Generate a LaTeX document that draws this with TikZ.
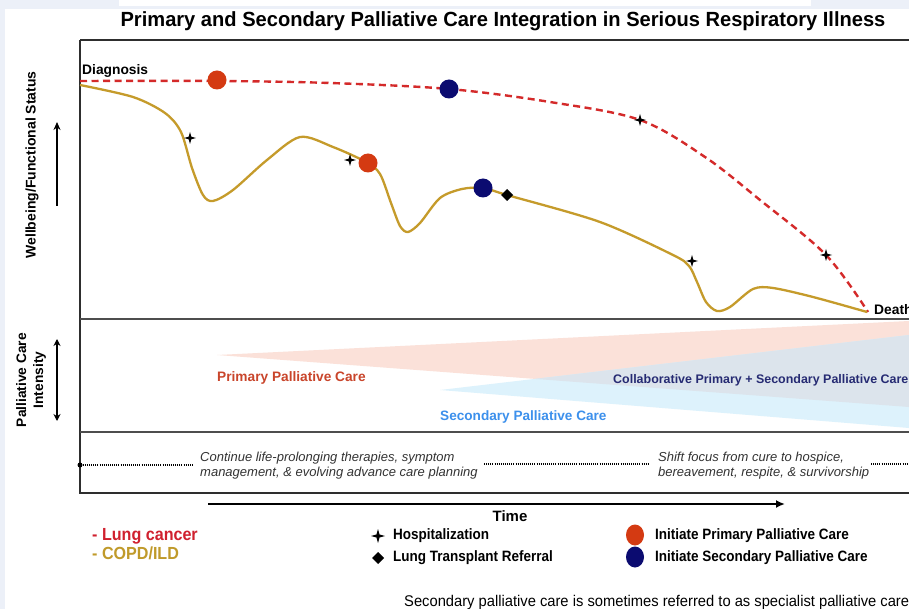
\documentclass[tikz,border=0pt]{standalone}
\usepackage{fontspec}
\setmainfont{Liberation Sans}
\usepackage{graphicx}
\usetikzlibrary{arrows.meta,shapes.geometric}

\definecolor{bgblue}{HTML}{ECF0F8}
\definecolor{framec}{HTML}{2E2E2E}
\definecolor{lungred}{HTML}{D42A2A}
\definecolor{copd}{HTML}{C59B2B}
\definecolor{prired}{HTML}{D43A12}
\definecolor{secnavy}{HTML}{0B0B70}
\definecolor{pinkfill}{HTML}{FBE1D9}
\definecolor{bluefill}{HTML}{DDF2FC}
\definecolor{overlapc}{HTML}{DCE4EC}
\definecolor{pritext}{HTML}{C9452B}
\definecolor{collabtext}{HTML}{262B73}
\definecolor{sectext}{HTML}{3C90EC}
\definecolor{lungtext}{HTML}{D0202E}
\definecolor{copdtext}{HTML}{C09A2A}
\definecolor{italtext}{HTML}{333333}

\newcommand{\fs}[1]{\fontsize{#1}{#1}\selectfont}
\newcommand{\cond}[2]{\scalebox{#1}[1]{#2}}

\tikzset{
  framel/.style={draw=framec, line width=2.3pt},
  sepl/.style={draw=framec!85, line width=2.6pt},
  lungline/.style={draw=lungred, line width=2.4pt, dash pattern=on 7pt off 4.5pt},
  copdline/.style={draw=copd, line width=2.3pt},
  arrowl/.style={draw=black, line width=2.8pt},
  pcirc/.style={circle, fill=prired, minimum size=19pt, inner sep=0pt},
  scirc/.style={circle, fill=secnavy, minimum size=19pt, inner sep=0pt},
  lpcirc/.style={ellipse, fill=prired, minimum width=18pt, minimum height=21pt, inner sep=0pt},
  lscirc/.style={ellipse, fill=secnavy, minimum width=18pt, minimum height=21pt, inner sep=0pt},
  chartlbl/.style={font=\fs{13.8}\bfseries, inner sep=0pt},
  itallbl/.style={font=\fontsize{13}{15}\selectfont\itshape, text=italtext, inner sep=0pt, align=left},
  legtxt/.style={font=\fs{15}\bfseries, inner sep=0pt, anchor=west},
  dotl/.style={draw=black, line width=1.2pt, dash pattern=on 0.9pt off 1.2pt},
  hosp/.pic={\fill[black] (0,-#1) -- (0.22*#1,-0.22*#1) -- (#1,0) -- (0.22*#1,0.22*#1) -- (0,#1) -- (-0.22*#1,0.22*#1) -- (-#1,0) -- (-0.22*#1,-0.22*#1) -- cycle;},
  diam/.pic={\fill[black] (0,-#1) -- (#1,0) -- (0,#1) -- (-#1,0) -- cycle;}
}

\begin{document}
\begin{tikzpicture}[x=1pt,y=-1pt]
\useasboundingbox (0,0) rectangle (909,609);
% background
\fill[bgblue] (0,0) rectangle (909,609);
\fill[white] (5,9) rectangle (909,609);
\fill[white] (119,0) rectangle (811,6);

% title
\node[inner sep=0pt, anchor=base] (title) at (503,27)
  {\fs{20.5}\bfseries\cond{0.98}{Primary and Secondary Palliative Care Integration in Serious Respiratory Illness}};

% palliative care band
\fill[pinkfill] (217,355) -- (909,321) -- (909,407) -- cycle;
\fill[bluefill] (440,390) -- (909,335) -- (909,428) -- cycle;
\begin{scope}
  \clip (217,355) -- (909,321) -- (909,407) -- cycle;
  \fill[overlapc] (440,390) -- (909,335) -- (909,428) -- cycle;
\end{scope}

% frame
\draw[framel] (80,40) -- (909,40);
\draw[framel] (80,40) -- (80,493) -- (909,493);
\draw[sepl] (80,319) -- (909,319);
\draw[sepl] (80,432) -- (909,432);

% axis labels
\node[chartlbl, rotate=90, font=\fs{14}\bfseries] (ylab) at (32,165) {Wellbeing/Functional Status};
\coordinate (upA) at (57,206);
\coordinate (upB) at (57,122);
\draw[arrowl, -{Stealth[length=8pt,width=7pt]}] (upA) -- (upB);
\node[rotate=90, inner sep=0pt, align=center, font=\fontsize{13.75}{17}\selectfont\bfseries] (plab) at (31,380) {Palliative Care\\Intensity};
\coordinate (dA) at (57,339);
\coordinate (dB) at (57,421);
\draw[arrowl, {Stealth[length=7pt,width=7pt]}-{Stealth[length=7pt,width=7pt]}] (dA) -- (dB);

% curves
\draw[lungline] plot[smooth, tension=0.55] coordinates {(80,81) (217,81) (330,83) (449,89) (550,102) (640,120) (705,157) (760,200) (826,255) (868,312)};
\draw[copdline] plot[smooth, tension=0.5] coordinates {(80,85) (133,97) (165,113) (181,132) (192,168) (203,195) (213,201) (233,190) (267,160) (300,137) (333,147) (366,162) (380,174) (391,203) (400,226) (408,232) (420,223) (440,198) (462,189) (483,188) (507,195) (600,222) (673,255) (689,266) (697,282) (706,302) (717,311) (730,307) (753,289) (773,288) (813,297) (867,312)};

% labels on chart
\node[chartlbl, anchor=base west] (diag) at (82,75) {Diagnosis};
\node[chartlbl, anchor=base west] (death) at (874,314) {Death};

% markers
\node[pcirc] (p1) at (217,80) {};
\node[scirc] (s1) at (449,89) {};
\pic at (640,120) {hosp=6};
\pic at (826,255) {hosp=6};
\pic at (190,138) {hosp=6};
\pic at (350,160) {hosp=6};
\pic at (692,261) {hosp=6};
\node[pcirc] (p2) at (368,163) {};
\node[scirc] (s2) at (483,188) {};
\pic at (507,195) {diam=6};

% band texts
\node[inner sep=0pt, anchor=base west, text=pritext, font=\fs{13.7}\bfseries] (prim) at (217,381) {Primary Palliative Care};
\node[inner sep=0pt, anchor=base west, text=collabtext, font=\fs{12.45}\bfseries] (coll) at (613,383) {Collaborative Primary + Secondary Palliative Care};
\node[inner sep=0pt, anchor=base west, text=sectext, font=\fs{13.6}\bfseries] (secd) at (440,420) {Secondary Palliative Care};

% bottom panel
\node[circle, fill=black, inner sep=0pt, minimum size=5pt] (ldot) at (80,465) {};
\coordinate (l1) at (192,465);
\draw[dotl] (ldot) -- (l1);
\node[itallbl, anchor=base west] (cont) at (200,476) {Continue life-prolonging therapies, symptom\\management, \& evolving advance care planning};
\coordinate (m1) at (484,464);
\coordinate (m2) at (648,464);
\draw[dotl] (m1) -- (m2);
\node[itallbl, anchor=base west] (shift) at (658,476) {Shift focus from cure to hospice,\\bereavement, respite, \& survivorship};
\coordinate (r1) at (871,464);
\coordinate (r2) at (909,464);
\draw[dotl] (r1) -- (r2);

% time arrow
\coordinate (tA) at (208,504);
\coordinate (tB) at (785,504);
\draw[arrowl, -{Latex[length=9pt,width=8pt]}] (tA) -- (tB);
\node[inner sep=0pt, anchor=base, font=\fs{15}\bfseries] (time) at (510,521) {Time};

% legend
\node[legtxt, text=lungtext, font=\fs{17.5}\bfseries] (lc) at (92,536) {\cond{0.92}{- Lung cancer}};
\node[legtxt, text=copdtext, font=\fs{17.5}\bfseries] (cd) at (92,553) {\cond{0.92}{- COPD/ILD}};
\pic at (378,536) {hosp=7};
\node[legtxt] (lh) at (393,536) {\cond{0.9}{Hospitalization}};
\pic at (378,558) {diam=6};
\node[legtxt] (lt) at (393,558) {\cond{0.9}{Lung Transplant Referral}};
\node[lpcirc] (lp) at (635,535) {};
\node[legtxt] (lpt) at (655,536) {\cond{0.9}{Initiate Primary Palliative Care}};
\node[lscirc] (ls) at (635,557) {};
\node[legtxt] (lst) at (655,558) {\cond{0.9}{Initiate Secondary Palliative Care}};

% note
\node[inner sep=0pt, anchor=base west, font=\fs{15.5}] (note) at (404,606) {\cond{0.95}{Secondary palliative care is sometimes referred to as specialist palliative care}};
\end{tikzpicture}
\end{document}
